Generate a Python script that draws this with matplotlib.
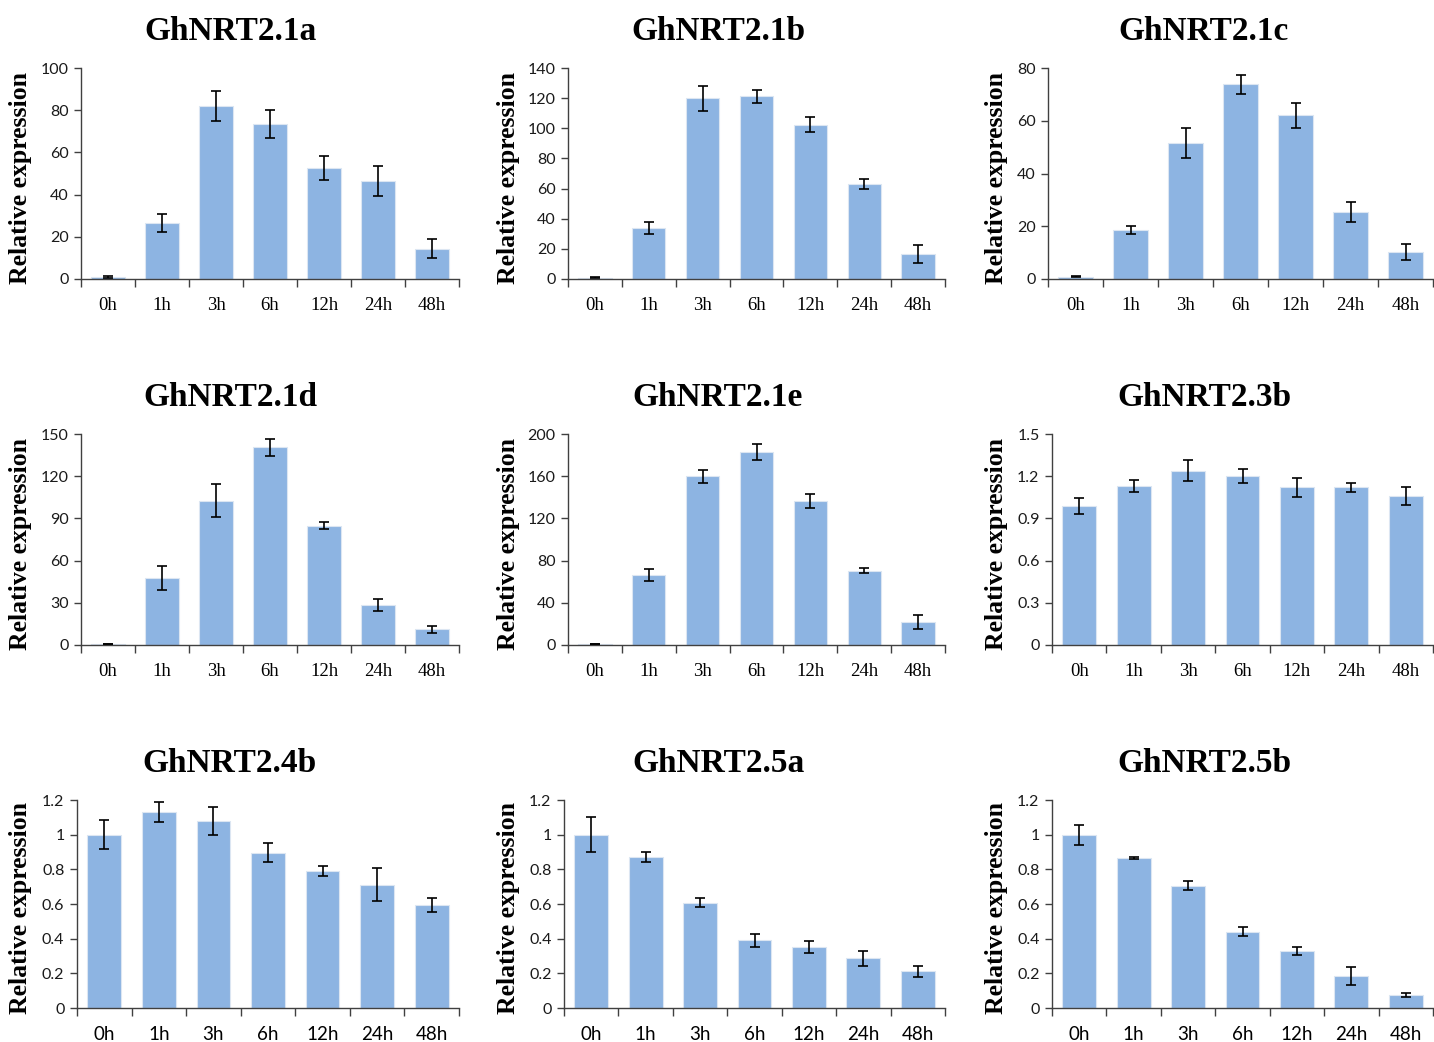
import matplotlib
matplotlib.use("Agg")
import matplotlib.pyplot as plt
from matplotlib.ticker import FuncFormatter

genes = ["GhNRT2.1a", "GhNRT2.1b", "GhNRT2.1c",
         "GhNRT2.1d", "GhNRT2.1e", "GhNRT2.3b",
         "GhNRT2.4b", "GhNRT2.5a", "GhNRT2.5b"]
times = ["0h", "1h", "3h", "6h", "12h", "24h", "48h"]

nrt21a = [1.0, 26.7, 82.1, 73.6, 52.7, 46.5, 14.4]
nrt21a_err = [0.3, 4.3, 7.0, 6.7, 5.6, 7.0, 4.4]
nrt21b = [0.8, 33.7, 119.8, 121.1, 102.5, 63.2, 16.6]
nrt21b_err = [0.2, 4.0, 8.0, 4.5, 5.0, 3.4, 5.8]
nrt21c = [0.9, 18.5, 51.4, 73.8, 62.0, 25.4, 10.3]
nrt21c_err = [0.2, 1.6, 5.7, 3.7, 4.9, 3.9, 3.0]
nrt21d = [0.6, 47.6, 102.6, 140.5, 84.8, 28.4, 11.1]
nrt21d_err = [0.2, 8.8, 11.8, 6.2, 2.3, 4.5, 2.4]
nrt21e = [0.8, 66.7, 159.9, 182.6, 136.5, 70.5, 21.5]
nrt21e_err = [0.3, 5.7, 6.0, 7.6, 7.0, 2.5, 6.5]
nrt23b = [0.99, 1.13, 1.24, 1.20, 1.12, 1.12, 1.06]
nrt23b_err = [0.057, 0.043, 0.073, 0.048, 0.065, 0.03, 0.062]
nrt24b = [1.0, 1.133, 1.079, 0.897, 0.792, 0.711, 0.595]
nrt24b_err = [0.085, 0.058, 0.08, 0.055, 0.028, 0.095, 0.042]
nrt25a = [1.0, 0.872, 0.607, 0.39, 0.353, 0.286, 0.211]
nrt25a_err = [0.1, 0.028, 0.026, 0.036, 0.036, 0.044, 0.03]
nrt25b = [1.0, 0.865, 0.706, 0.441, 0.331, 0.183, 0.074]
nrt25b_err = [0.058, 0.008, 0.028, 0.026, 0.023, 0.053, 0.01]

yticks = [
    [0, 20, 40, 60, 80, 100],
    [0, 20, 40, 60, 80, 100, 120, 140],
    [0, 20, 40, 60, 80],
    [0, 30, 60, 90, 120, 150],
    [0, 40, 80, 120, 160, 200],
    [0, 0.3, 0.6, 0.9, 1.2, 1.5],
    [0, 0.2, 0.4, 0.6, 0.8, 1.0, 1.2],
    [0, 0.2, 0.4, 0.6, 0.8, 1.0, 1.2],
    [0, 0.2, 0.4, 0.6, 0.8, 1.0, 1.2],
]

series = [nrt21a, nrt21b, nrt21c, nrt21d, nrt21e, nrt23b, nrt24b, nrt25a, nrt25b]
errors = [nrt21a_err, nrt21b_err, nrt21c_err, nrt21d_err, nrt21e_err,
          nrt23b_err, nrt24b_err, nrt25a_err, nrt25b_err]

W, H = 1434, 1042
fig = plt.figure(figsize=(W / 100, H / 100), dpi=100)

# pixel layout of each panel's axes
rows = [(68, 279), (434, 645), (800, 1008)]
lefts = [[81, 568, 1048], [81, 568, 1052], [77, 564, 1052]]
rights = [459, 945, 1433]
title_x = [230, 718, 1204]
title_y = [31, 397, 763]
ylab_x = [21, 508, 996]

serif = "Liberation Serif"
sans = "Lato"
bar_col = "#8DB4E2"
axis_col = "#404040"

for i in range(9):
    r, c = divmod(i, 3)
    top, bot = rows[r]
    left = lefts[r][c]
    right = rights[c]
    ax = fig.add_axes([left / W, 1 - bot / H, (right - left) / W, (bot - top) / H])

    ax.bar(range(7), series[i], width=0.62, color=bar_col,
           edgecolor="#DCE6F2", linewidth=0.8, zorder=2)
    ax.errorbar(range(7), series[i], yerr=errors[i], fmt="none",
                ecolor="black", elinewidth=1.2, capsize=3.5, capthick=1.2, zorder=3)

    ax.set_xlim(-0.5, 6.5)
    ax.set_ylim(0, yticks[i][-1])
    ax.set_yticks(yticks[i])
    ax.yaxis.set_major_formatter(FuncFormatter(lambda v, p: "%g" % v))

    ax.set_xticks(range(7))
    ax.set_xticks([k - 0.5 for k in range(8)], minor=True)
    xfont = sans if r == 2 else serif
    ax.set_xticklabels(times, fontfamily=xfont, fontsize=13.5)
    ax.tick_params(axis="x", which="major", length=0, pad=13, colors="black")
    ax.tick_params(axis="x", which="minor", length=6, width=1, color=axis_col,
                   direction="out")
    ax.tick_params(axis="y", length=5, width=1, color=axis_col, pad=4,
                   labelsize=11.5)
    for lab in ax.get_yticklabels():
        lab.set_fontfamily(sans)
        lab.set_color("#1a1a1a")

    for s in ["top", "right"]:
        ax.spines[s].set_visible(False)
    for s in ["left", "bottom"]:
        ax.spines[s].set_color(axis_col)
        ax.spines[s].set_linewidth(1)

    fig.text(title_x[c] / W, 1 - title_y[r] / H, genes[i], ha="center",
             va="center", fontfamily=serif, fontweight="bold", fontsize=24)
    fig.text(ylab_x[c] / W, 1 - ((top + bot) / 2 + 4) / H, "Relative expression",
             ha="center", va="center", rotation=90, fontfamily=serif,
             fontweight="bold", fontsize=18.5)

fig.savefig("out.png", dpi=100, facecolor="white")
